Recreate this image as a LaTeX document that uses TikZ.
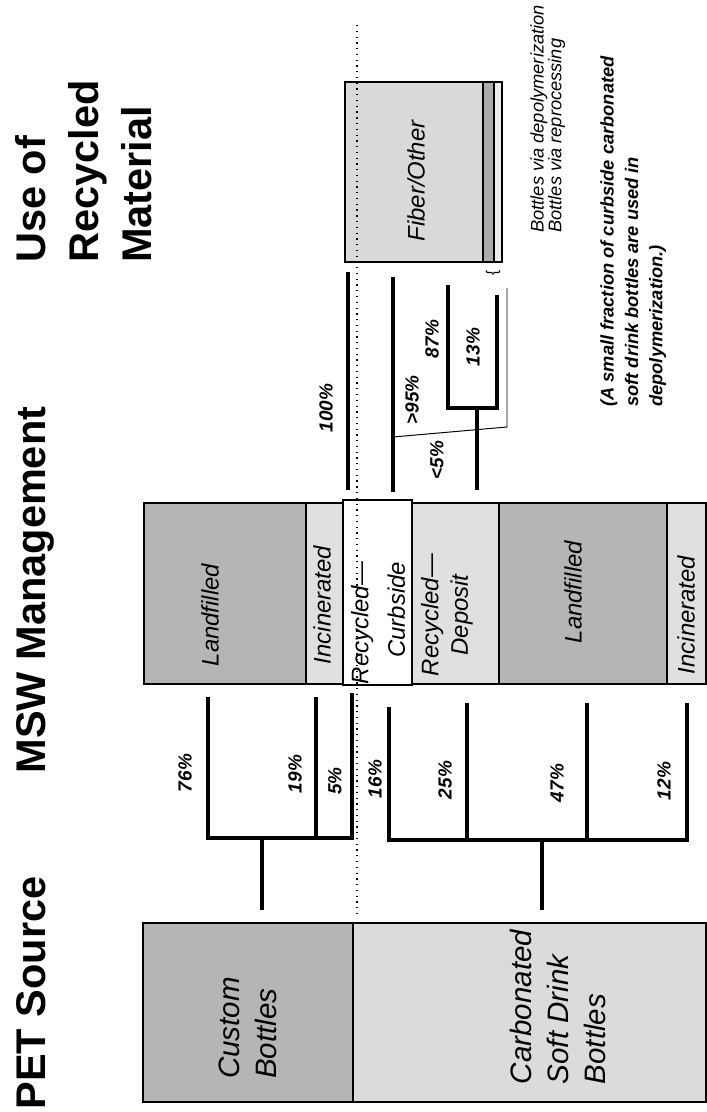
\documentclass[tikz,border=0pt]{standalone}
\usepackage{fontspec}
\setmainfont{Liberation Sans}
\usepackage{tikz}

\begin{document}
\begin{tikzpicture}[x=0.025cm, y=-0.025cm,
    box/.style={draw=black, line width=0.8pt, inner sep=0pt, outer sep=0pt},
    darkbox/.style={box, fill=gray!58},
    lightbox/.style={box, fill=gray!24},
    head/.style={font=\fontsize{29.5}{37.7}\selectfont\bfseries, rotate=90, inner sep=0pt},
    srclbl/.style={font=\fontsize{21}{26.3}\selectfont\itshape, rotate=90, align=left, inner sep=0pt},
    mswlbl/.style={font=\fontsize{17}{21}\selectfont\itshape, rotate=90, inner sep=0pt},
    pct/.style={font=\fontsize{13.5}{16}\selectfont\bfseries\itshape, rotate=90, inner sep=0pt},
    link/.style={line width=2.8pt},
    hair/.style={line width=0.7pt},
    sepline/.style={line width=0.9pt, dash pattern=on 0.9pt off 3.2pt}]
  \useasboundingbox (0,0) rectangle (706,1112);

  % column headings
  \node[head, anchor=base] (hsrc) at (45,993) {PET Source};
  \node[head, anchor=base] (hmsw) at (45,590) {MSW Management};
  \node[head, anchor=north west, align=left] (huse) at (15,263) {Use of\\Recycled\\Material};

  % PET sources
  \node[darkbox, minimum width=5.25cm, minimum height=4.475cm] (custom) at (248,1012.5) {};
  \node[lightbox, fill=gray!28, minimum width=8.825cm, minimum height=4.475cm] (csd) at (529.5,1012.5) {};

  % MSW management
  \node[darkbox, minimum width=4.05cm, minimum height=4.525cm] (lfc) at (225,593.5) {};
  \node[lightbox, minimum width=0.925cm, minimum height=4.525cm] (incc) at (324.5,593.5) {};
  \node[box, fill=white, minimum width=1.725cm, minimum height=4.625cm] (curb) at (377.5,592.5) {};
  \node[lightbox, minimum width=2.175cm, minimum height=4.525cm] (dep) at (455.5,593.5) {};
  \node[darkbox, minimum width=4.2cm, minimum height=4.525cm] (lfs) at (583,593.5) {};
  \node[lightbox, minimum width=0.975cm, minimum height=4.525cm] (incs) at (686.5,593.5) {};

  % use of recycled material
  \node[lightbox, fill=gray!30, minimum width=3.925cm, minimum height=4.5cm] (fiber) at (423.5,172) {};
  \node[darkbox, fill=gray!65, minimum width=0.275cm, minimum height=4.5cm] (depol) at (488.5,172) {};
  \node[lightbox, fill=gray!14, minimum width=0.2cm, minimum height=4.5cm] (repro) at (498,172) {};

  % dotted divider
  \coordinate (dtop) at (357,25);
  \coordinate (dbot) at (357,918);
  \draw[sepline] (dtop) -- (dbot);

  % split of custom bottles
  \coordinate (cstem) at (262,910);
  \coordinate (cjoin) at (262,838);
  \coordinate (c76) at (208,697);
  \coordinate (c19) at (316,697);
  \coordinate (c5) at (352,693);
  \draw[link] (cstem) -- (cjoin);
  \draw[link] (c76) |- (c5 |- cjoin) -- (c5);
  \draw[link] (c19) -- (c19 |- cjoin);

  % split of soft drink bottles
  \coordinate (sstem) at (542,910);
  \coordinate (sjoin) at (542,840);
  \coordinate (s16) at (389,707);
  \coordinate (s25) at (467,703);
  \coordinate (s47) at (587,703);
  \coordinate (s12) at (687,703);
  \draw[link] (sstem) -- (sjoin);
  \draw[link] (s16) |- (s12 |- sjoin) -- (s12);
  \foreach \b in {s25,s47}{
    \draw[link] (\b) -- (\b |- sjoin);
  }

  % recycled streams
  \coordinate (r100a) at (348,490);
  \coordinate (r100b) at (348,272);
  \coordinate (r95a) at (393,492);
  \coordinate (r95b) at (393,277);
  \coordinate (rkink) at (393,437);
  \coordinate (rthin) at (507,427);
  \coordinate (rthintop) at (507,288);
  \coordinate (rdep) at (477,490);
  \coordinate (rjoin) at (477,408);
  \coordinate (r87) at (448,285);
  \coordinate (r13) at (497,295);
  \draw[link] (r100a) -- (r100b);
  \draw[link] (r95a) -- (r95b);
  \draw[hair] (rkink) -- (rthin) -- (rthintop);
  \draw[link] (rdep) -- (rjoin);
  \draw[link] (r87) |- (r13 |- rjoin) -- (r13);
  \node[rotate=90, inner sep=0pt, font=\fontsize{11}{11}\selectfont] (brc) at (493,273) {\{};

  % box labels
  \node[srclbl] (tcustom) at (248,1028) {Custom\\Bottles};
  \node[srclbl] (tcsd) at (558,1007) {Carbonated\\Soft Drink\\Bottles};
  \node[mswlbl] (tlfc) at (210,615) {Landfilled};
  \node[mswlbl] (tincc) at (322,605) {Incinerated};
  \node[mswlbl, align=right, font=\fontsize{17}{26}\selectfont\itshape] (tcurb) at (378,623) {Recycled—\\Curbside};
  \node[mswlbl, align=center] (tdep) at (447,615) {Recycled—\\Deposit};
  \node[mswlbl] (tlfs) at (573,592) {Landfilled};
  \node[mswlbl] (tincs) at (686,615) {Incinerated};
  \node[mswlbl] (tfiber) at (416,181) {Fiber/Other};

  % shares
  \node[pct] (p76) at (185,773) {76\%};
  \node[pct] (p19) at (295,774) {19\%};
  \node[pct] (p5) at (335,781) {5\%};
  \node[pct] (p16) at (375,779) {16\%};
  \node[pct] (p25) at (445,780) {25\%};
  \node[pct] (p47) at (557,783) {47\%};
  \node[pct] (p12) at (664,781) {12\%};
  \node[pct] (p100) at (326,408) {100\%};
  \node[pct] (p95) at (412,400) {>95\%};
  \node[pct] (plt5) at (437,460) {<5\%};
  \node[pct] (p87) at (432,339) {87\%};
  \node[pct] (p13) at (473,347) {13\%};

  % legend and note
  \node[rotate=90, anchor=north west, align=left, inner sep=0pt,
        font=\fontsize{13}{12.6}\selectfont\itshape] (legend) at (530,233)
        {Bottles via depolymerization\\Bottles via reprocessing};
  \node[rotate=90, anchor=north west, align=left, inner sep=0pt,
        font=\fontsize{13}{17.4}\selectfont\bfseries\itshape] (note) at (600,407)
        {(A small fraction of curbside carbonated\\soft drink bottles are used in\\depolymerization.)};
\end{tikzpicture}
\end{document}
